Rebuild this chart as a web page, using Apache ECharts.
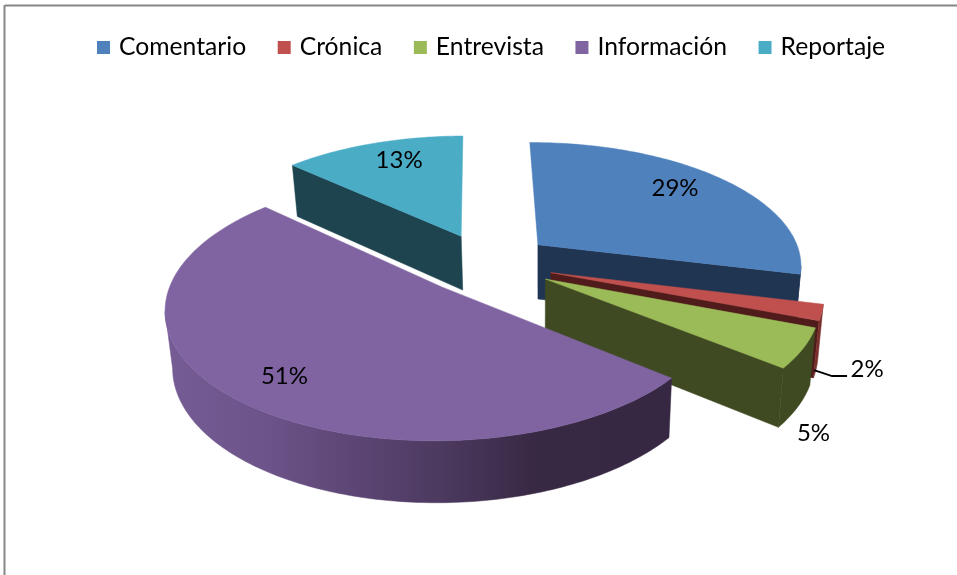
<!DOCTYPE html>
<html>
<head>
<meta charset="utf-8">
<style>html,body{margin:0;padding:0;background:#fff}#c{width:957px;height:575px}</style>
<script src="https://cdn.jsdelivr.net/npm/echarts@6/dist/echarts.min.js"></script>
</head>
<body>
<div id="c"></div>
<script>
const categories = ['Comentario', 'Crónica', 'Entrevista', 'Información', 'Reportaje'];
const percents = [29, 2, 5, 51, 13];
const topColors = ['#4f81bd', '#c0504d', '#9bbb59', '#8064a2', '#4bacc6'];
const wallColors = ['#1f3552', '#501c1b', '#3f4a22', '#5d4677', '#1e4450'];
const rimColors = ['#1f3552', '#79302d', '#3f4a22', '#5d4677', '#1e4450'];
// label placement relative to slice apex: radius and angle (shift from mid-angle)
const labelRadius = [0.785, 1.24, 1.3, 0.8, 0.785];
const labelShift = [-3.6, 16.1, 21.6, -1.6, 3];

// 3D pie projection parameters
const CX = 487, CY = 263.3, RX = 265, RY = 122.7, K = 0.15, EXPLODE = 0.25, START = -0.4;
const total = percents.reduce((a, b) => a + b, 0);
const rad = d => d * Math.PI / 180;

function project(u, v) {
  const p = 1 / (1 + K * v);
  return { x: CX + RX * u * p, y: CY - RY * v * p, p };
}
function lower(pt) {
  return [540 + (pt.x - 540) * 0.98, pt.y + 23 + 32 * pt.p];
}
function renderSlice(params, api) {
  const idx = params.seriesIndex;
  const val = api.value(0);
  let before = 0;
  for (let i = 0; i < idx; i++) before += percents[i];
  const a0 = START + before / total * 360, a1 = START + (before + val) / total * 360;
  const mid = (a0 + a1) / 2;
  const ou = EXPLODE * Math.sin(rad(mid)), ov = EXPLODE * Math.cos(rad(mid));
  const rim = a => project(ou + Math.sin(rad(a)), ov + Math.cos(rad(a)));
  const apex = project(ou, ov);
  const xy = p => [p.x, p.y];
  const children = [];
  const poly = (points, fill) => ({
    type: 'polygon', shape: { points }, silent: true,
    style: { fill, stroke: fill, lineWidth: 0.5 }
  });
  // radial walls: only those that face the viewer
  [a1, a0].forEach(a => {
    const facing = a === a1 ? Math.sin(rad(a)) > 0.05 : Math.sin(rad(a)) < -0.05;
    if (!facing) return;
    const r = rim(a);
    children.push(poly([xy(apex), xy(r), lower(r), lower(apex)], wallColors[idx]));
  });
  // outer curved wall: only the part between the silhouette extremes of the rim
  let aRight = 90, aLeft = 270;
  for (let a = 60; a <= 120; a += 0.5) if (rim(a).x > rim(aRight).x) aRight = a;
  for (let a = 230; a <= 300; a += 0.5) if (rim(a).x < rim(aLeft).x) aLeft = a;
  const w0 = Math.max(a0, aRight), w1 = Math.min(a1, aLeft);
  if (w1 > w0) {
    const top = [], bot = [];
    for (let a = w0; a < w1; a += 1) { const r = rim(a); top.push(xy(r)); bot.unshift(lower(r)); }
    const e = rim(w1); top.push(xy(e)); bot.unshift(lower(e));
    const fill = idx === 3
      ? new echarts.graphic.LinearGradient(0, 0, 1, 0, [
          { offset: 0, color: '#755c94' },
          { offset: 0.2, color: '#6c5389' },
          { offset: 0.37, color: '#5d4675' },
          { offset: 0.54, color: '#4c3a60' },
          { offset: 0.74, color: '#372843' },
          { offset: 1, color: '#362843' }
        ])
      : rimColors[idx];
    children.push(poly(top.concat(bot), fill));
  }
  // top face
  const face = [xy(apex)];
  for (let a = a0; a < a1; a += 1) face.push(xy(rim(a)));
  face.push(xy(rim(a1)));
  children.push(poly(face, topColors[idx]));
  // label
  const la = rad(mid + labelShift[idx]);
  const lp = project(ou + labelRadius[idx] * Math.sin(la), ov + labelRadius[idx] * Math.cos(la));
  if (idx === 1) {
    children.push({
      type: 'polyline', silent: true,
      shape: { points: [[lp.x - 53, lp.y + 1], [lp.x - 35, lp.y + 7], [lp.x - 20, lp.y + 7]] },
      style: { fill: 'none', stroke: '#000', lineWidth: 2 }
    });
  }
  children.push({
    type: 'text', silent: true, z2: 10, x: lp.x, y: lp.y,
    style: {
      text: val + '%', align: 'center', verticalAlign: 'middle',
      font: '24px Lato, "Open Sans", sans-serif', fill: '#000'
    }
  });
  return { type: 'group', children };
}

const chart = echarts.init(document.getElementById('c'), null, { renderer: 'canvas' });
chart.setOption({
  animation: false,
  backgroundColor: '#fff',
  color: topColors,
  legend: {
    left: 92, top: 30, itemWidth: 13, itemHeight: 13, itemGap: 31.5, icon: 'rect',
    data: categories,
    textStyle: { fontFamily: 'Lato, "Open Sans", sans-serif', fontSize: 24.7, color: '#000', padding: [0, 0, 0, 4] }
  },
  graphic: [
    { type: 'line', silent: true, shape: { x1: 5, y1: 5.5, x2: 957, y2: 5.5 }, style: { stroke: '#868686', lineWidth: 2 } },
    { type: 'line', silent: true, shape: { x1: 4.5, y1: 5, x2: 4.5, y2: 575 }, style: { stroke: '#868686', lineWidth: 2 } }
  ],
  series: categories.map((name, i) => ({
    type: 'custom',
    name,
    coordinateSystem: 'none',
    itemStyle: { color: topColors[i] },
    renderItem: renderSlice,
    data: [[percents[i]]]
  }))
});
</script>
</body>
</html>
